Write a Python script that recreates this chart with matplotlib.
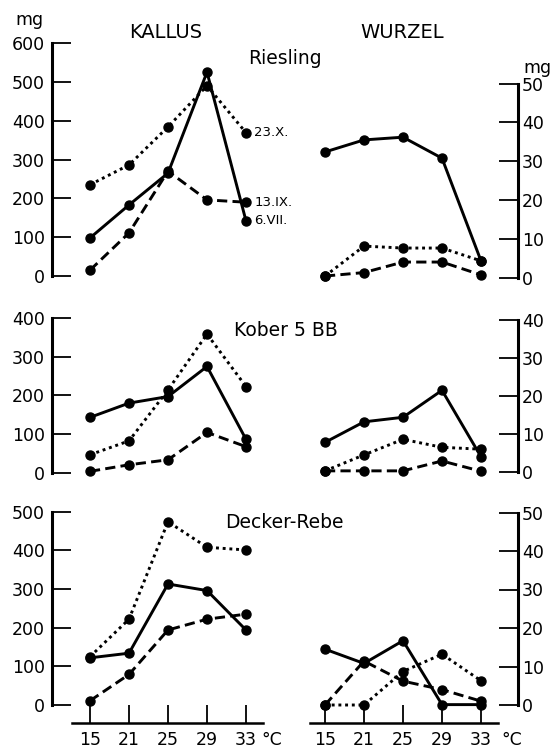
import numpy as np
import matplotlib.pyplot as plt

# temperature steps (equally spaced on the chart)
temps = ['15', '21', '25', '29', '33']
x = np.arange(len(temps))

dates = ['6.VII.', '13.IX.', '23.X.']

# Riesling
ries_kallus_6vii = [98, 183, 265, 525, 142]
ries_kallus_13ix = [15, 111, 270, 196, 190]
ries_kallus_23x = [235, 286, 384, 490, 369]
ries_wurzel_6vii = [32.4, 35.5, 36.2, 30.8, 4.4]
ries_wurzel_13ix = [0.5, 1.4, 4.1, 4.1, 0.8]
ries_wurzel_23x = [0.5, 8.2, 7.7, 7.7, 4.4]

# Kober 5 BB
kober_kallus_6vii = [143, 180, 197, 275, 86]
kober_kallus_13ix = [3, 20, 33, 104, 67]
kober_kallus_23x = [46, 82, 214, 359, 223]
kober_wurzel_6vii = [7.8, 13.2, 14.4, 21.5, 4.0]
kober_wurzel_13ix = [0.3, 0.3, 0.3, 2.9, 0.2]
kober_wurzel_23x = [0.3, 4.5, 8.6, 6.5, 6.0]

# Decker-Rebe
decker_kallus_6vii = [122, 134, 313, 296, 194]
decker_kallus_13ix = [11, 79, 194, 222, 235]
decker_kallus_23x = [125, 222, 474, 408, 401]
decker_wurzel_6vii = [14.5, 10.8, 16.7, 0.1, 0.1]
decker_wurzel_13ix = [0, 11.4, 6.2, 4.0, 1.0]
decker_wurzel_23x = [0, 0, 8.7, 13.2, 6.3]

W, H = 552, 751
fig = plt.figure(figsize=(W / 100, H / 100), dpi=100)
plt.rcParams['font.family'] = 'DejaVu Sans'

styles = ['-', (0, (3.5, 1.8)), (0, (1, 1.3))]


def px_axes(x0, x1, yt, yb):
    return fig.add_axes([x0 / W, 1 - yb / H, (x1 - x0) / W, (yb - yt) / H])


def ftext(xp, yp, s, **kw):
    fig.text(xp / W, 1 - yp / H, s, **kw)


def panel(box, zero_px, px_per_unit, ymax, step, series, side, xpx0, bottom=False, labels=False):
    x0, x1, yt, yb = box
    ax = px_axes(x0, x1, yt, yb)
    ax.set_xlim((x0 - xpx0) / 39, (x1 - xpx0) / 39)
    ax.set_ylim((zero_px - yb) / px_per_unit, (zero_px - yt) / px_per_unit)
    for vals, ls in zip(series, styles):
        ax.plot(x, vals, color='k', ls=ls, lw=2.1, marker='o', ms=6.5, clip_on=False)
    if labels:
        for vals, d in zip(series, dates):
            ax.annotate(d, (x[-1], vals[-1]), xytext=(6, 0), textcoords='offset points',
                        va='center', ha='left', fontsize=9.5)
    other = 'right' if side == 'left' else 'left'
    for s in ['top', other]:
        ax.spines[s].set_visible(False)
    ax.spines[side].set_bounds(0, ymax)
    ax.spines[side].set_linewidth(2.2)
    ax.yaxis.set_ticks_position(side)
    ax.set_yticks(np.arange(0, ymax + 1, step))
    ax.tick_params(axis='y', direction='in', length=14, width=1.3,
                   pad=5 if side == 'left' else 3, labelsize=12.5)
    if bottom:
        ax.spines['bottom'].set_linewidth(1.8)
        ax.spines['bottom'].set_bounds((x0 + 20 - xpx0) / 39, 4.43)
        ax.set_xticks(x)
        ax.set_xticklabels(temps)
        ax.tick_params(axis='x', direction='in', length=13, width=1.3, pad=6, labelsize=12.5)
    else:
        ax.spines['bottom'].set_visible(False)
        ax.set_xticks([])
    ax.patch.set_alpha(0)
    return ax


# top row: Riesling
panel((52, 270, 30, 292), 276, 0.3883, 600, 100,
      [ries_kallus_6vii, ries_kallus_13ix, ries_kallus_23x], 'left', 90, labels=True)
panel((290, 518, 30, 292), 278, 3.89, 50, 10,
      [ries_wurzel_6vii, ries_wurzel_13ix, ries_wurzel_23x], 'right', 325)

# middle row: Kober 5 BB
panel((52, 270, 300, 488), 472.5, 0.3855, 400, 100,
      [kober_kallus_6vii, kober_kallus_13ix, kober_kallus_23x], 'left', 90)
panel((290, 518, 300, 488), 472, 3.8, 40, 10,
      [kober_wurzel_6vii, kober_wurzel_13ix, kober_wurzel_23x], 'right', 325)

# bottom row: Decker-Rebe
panel((52, 270, 500, 723), 705, 0.3866, 500, 100,
      [decker_kallus_6vii, decker_kallus_13ix, decker_kallus_23x], 'left', 90, bottom=True)
panel((290, 518, 500, 723), 705, 3.85, 50, 10,
      [decker_wurzel_6vii, decker_wurzel_13ix, decker_wurzel_23x], 'right', 325, bottom=True)

# headings and units
ftext(166, 33, 'KALLUS', ha='center', va='center', fontsize=14)
ftext(402, 33, 'WURZEL', ha='center', va='center', fontsize=14)
ftext(285, 58, 'Riesling', ha='center', va='center', fontsize=13.5)
ftext(286, 330, 'Kober 5 BB', ha='center', va='center', fontsize=13.5)
ftext(284, 523, 'Decker-Rebe', ha='center', va='center', fontsize=13.5)
ftext(29, 20, 'mg', ha='center', va='center', fontsize=12.5)
ftext(537, 68, 'mg', ha='center', va='center', fontsize=12.5)
ftext(261, 740, '°C', ha='left', va='center', fontsize=12.5)
ftext(501, 740, '°C', ha='left', va='center', fontsize=12.5)

fig.savefig('out.png', dpi=100)
